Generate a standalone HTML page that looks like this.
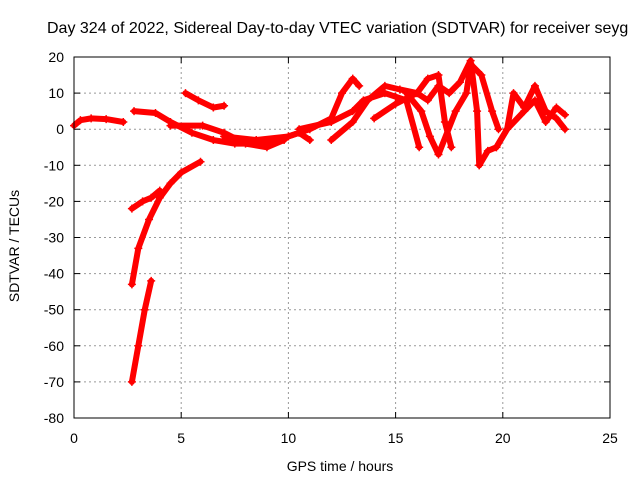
<!DOCTYPE html>
<html><head><meta charset="utf-8"><style>
body{margin:0;background:#fff;overflow:hidden}
svg{display:block;font-family:"Liberation Sans",sans-serif}
</style></head><body>
<svg id="c" width="640" height="480">
<text x="47" y="33" font-size="16">Day 324 of 2022, Sidereal Day-to-day VTEC variation (SDTVAR) for receiver seyg</text>
<text x="340" y="471" font-size="14" text-anchor="middle">GPS time / hours</text>
<text transform="translate(19,246) rotate(-90)" font-size="14" text-anchor="middle">SDTVAR / TECUs</text>
<g id="grid"></g><g id="marks"></g>
<rect x="74" y="57" width="536" height="361" fill="none" stroke="#000" stroke-width="1"/>
</svg>
<script>
const xTicks=[0,5,10,15,20,25];
const yTicks=[20,10,0,-10,-20,-30,-40,-50,-60,-70,-80];
const tA=[0,0.3,0.8,1.5,2.3], vA=[1,2.5,3,2.8,2];
const tB=[2.7,3.0,3.3,3.6], vB=[-70,-60,-50,-42];
const tC=[2.7,3.0,3.5,4.0,4.5,5.0,5.9], vC=[-43,-33,-25,-19,-15,-12,-9];
const tD=[2.7,3.2,3.6,4.0], vD=[-22,-20,-19,-17];
const tE=[2.8,3.8,4.5,5.5,6.5,7.5,8.5,9.5,10.5,11.0], vE=[5,4.5,2,-1,-3,-4,-4,-3,-1,-3];
const tF=[5.2,5.8,6.5,7.0], vF=[10,8,6,6.5];
const tG=[4.5,6,7,8,9,9.8], vG=[1,1,-1,-4,-5,-3];
const tH=[7,8.5,10,11,12,12.5,13,13.3], vH=[-2,-3,-2,0,3,10,14,12];
const tI=[10.5,12,13,13.5,14.5,15,15.5,16.1], vI=[0,2,5,8,10,9,8,-5];
const tJ=[12,13,13.7,14.5,15.2,16,16.5,17,17.3,17.6], vJ=[-3,2,8,12,11,10,14,15,2,-5];
const tK=[14,15,16,16.5,17,17.5,18,18.5,18.8,18.9], vK=[3,7,10,8,12,10,13,19,5,-10];
const tL=[15.5,16.2,16.6,17,17.8,18.3,18.5,19,19.5,19.8], vL=[10,5,-2,-7,5,10,18,15,5,0];
const tM=[18.9,19.3,19.7,20.2,20.5,21,21.5,22,22.5,22.9], vM=[-10,-6,-5,0,10,6,12,5,3,0];
const tN=[19.7,20.2,21,21.5,22,22.5,22.9], vN=[-5,0,5,8,2,6,4];
const series=[[tA,vA],[tB,vB],[tC,vC],[tD,vD],[tE,vE],[tF,vF],[tG,vG],[tH,vH],[tI,vI],[tJ,vJ],[tK,vK],[tL,vL],[tM,vM],[tN,vN]];
const X=t=>74+t*(536/25), Y=v=>57+(20-v)*(361/100);
const NS='http://www.w3.org/2000/svg';
const g=document.getElementById('grid'), m=document.getElementById('marks');
function el(n,a,p){const e=document.createElementNS(NS,n);for(const k in a)e.setAttribute(k,a[k]);p.appendChild(e);return e;}
xTicks.forEach(t=>{
 if(t>0&&t<25){const l=el('line',{x1:X(t),x2:X(t),y1:57,y2:418,stroke:'#999','stroke-dasharray':'2,3'},g);
 
 }
 el('line',{x1:X(t),x2:X(t),y1:418,y2:412,stroke:'#000'},g);
 el('line',{x1:X(t),x2:X(t),y1:57,y2:63,stroke:'#000'},g);
 const tx=el('text',{x:X(t),y:443,'font-size':14,'text-anchor':'middle'},g);tx.textContent=t;
 
 
});
yTicks.forEach(v=>{
 if(v<20&&v>-80){const l=el('line',{x1:74,x2:610,y1:Y(v),y2:Y(v),stroke:'#999','stroke-dasharray':'2,3'},g);
 
 }
 el('line',{x1:74,x2:80,y1:Y(v),y2:Y(v),stroke:'#000'},g);
 el('line',{x1:604,x2:610,y1:Y(v),y2:Y(v),stroke:'#000'},g);
 const tx=el('text',{x:64,y:Y(v)+5,'font-size':14,'text-anchor':'end'},g);tx.textContent=v;
 
 
});
series.forEach(([ts,vs])=>{
 const pts=ts.map((t,i)=>X(t)+','+Y(vs[i])).join(' ');
 const p=el('polyline',{points:pts,fill:'none',stroke:'#f00','stroke-width':6,'stroke-linejoin':'round','stroke-linecap':'round'},m);
 
 
 ts.forEach((t,i)=>{
  const c=el('path',{d:`M${X(t)-4},${Y(vs[i])}h8M${X(t)},${Y(vs[i])-4}v8`,stroke:'#f00','stroke-width':1.5},m);
  
  
 });
});
</script>
</body></html>
